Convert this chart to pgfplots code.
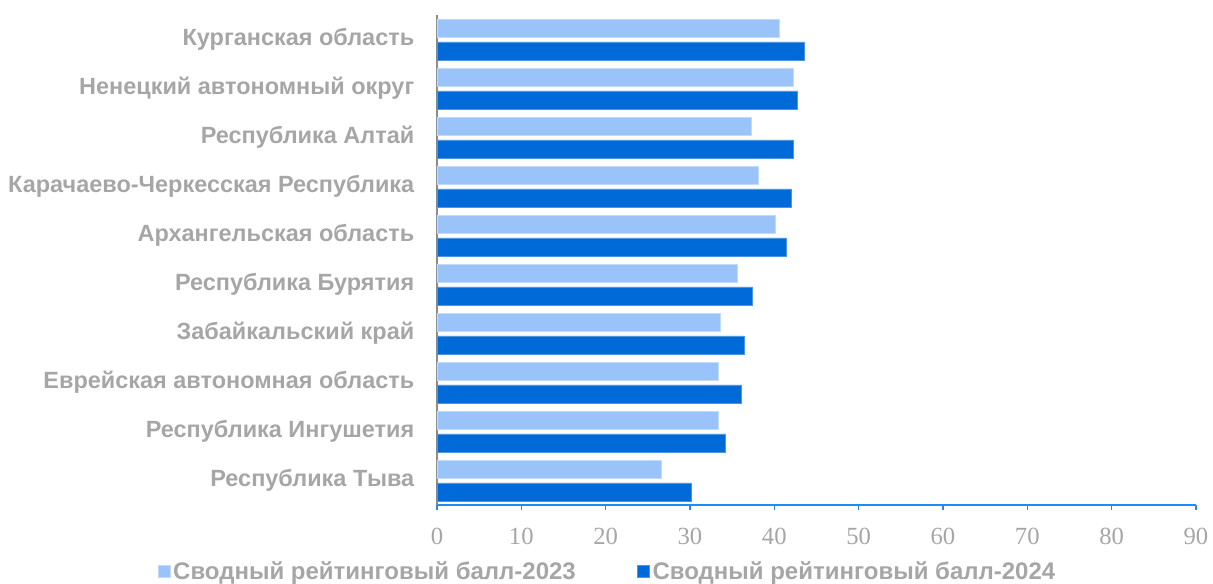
\documentclass[border=0pt]{standalone}
\usepackage{pgfplots}
\pgfplotsset{compat=1.18}
\usepackage{fontspec}
\setmainfont{Liberation Sans}
\newfontfamily\tickfont{Liberation Serif}
\definecolor{lightbar}{HTML}{9AC3FA}
\definecolor{darkbar}{HTML}{006AD8}
\definecolor{txtgray}{HTML}{A6A6A6}
\definecolor{axblue}{HTML}{1E8CF5}
\begin{document}
\begin{tikzpicture}
    \begin{axis}[
        name             = main,
        scale only axis,
        width            = 569.25pt,
        height           = 367.5pt,
        xbar,
        bar width        = 13.5pt,
        xmin             = 0,
        xmax             = 90,
        ymin             = -0.5,
        ymax             = 9.5,
        xtick            = {0,10,...,90},
        ytick            = {0,...,9},
        yticklabels      = {Республика Тыва,
                            Республика Ингушетия,
                            Еврейская автономная область,
                            Забайкальский край,
                            Республика Бурятия,
                            Архангельская область,
                            Карачаево-Черкесская Республика,
                            Республика Алтай,
                            Ненецкий автономный округ,
                            Курганская область},
        axis x line*     = bottom,
        axis y line*     = left,
        x axis line style = {axblue, line width=1.5pt, -},
        y axis line style = {gray!90, line width=1.5pt, -},
        xtick style      = {axblue, line width=1.2pt},
        xtick align      = outside,
        major tick length = 4pt,
        ytick style      = {draw=none},
        /pgf/number format/assume math mode = true,
        xticklabel style = {font=\tickfont\fontsize{18.5}{20}\selectfont, text=txtgray, yshift=-10pt},
        yticklabel style = {font=\bfseries\fontsize{17.6}{19}\selectfont, text=txtgray, xshift=-9.5pt},
        legend style     = {at={(0.225,-0.135)}, anchor=center, draw=none,
                            font=\bfseries\fontsize{18}{20}\selectfont, text=txtgray,
                            legend columns=2, /tikz/every even column/.append style={column sep=44pt}},
        legend image code/.code={\fill[#1] (0pt,-4.6pt) rectangle (9.2pt,4.6pt);},
        clip             = false]

        \addplot[fill=lightbar, draw=lightbar!60!white, line width=0.4pt, bar shift=8.6pt]
            coordinates {
                (26.6,0) (33.3,1) (33.4,2) (33.6,3) (35.6,4)
                (40.1,5) (38.1,6) (37.3,7) (42.3,8) (40.6,9)
            };
        \addlegendentry{Сводный рейтинговый балл-2023}

        \addplot[fill=darkbar, draw=darkbar!70!white, line width=0.4pt, bar shift=-8.6pt]
            coordinates {
                (30.2,0) (34.2,1) (36.1,2) (36.4,3) (37.4,4)
                (41.4,5) (41.95,6) (42.2,7) (42.7,8) (43.5,9)
            };
        \addlegendentry{Сводный рейтинговый балл-2024}
    \end{axis}
    \pgfresetboundingbox
    \path (main.south west) ++(-327.75pt,-58.5pt) coordinate (bl);
    \path (main.south west) ++(582pt,378.75pt) coordinate (tr);
    \path (bl) rectangle (tr);
\end{tikzpicture}
\end{document}
